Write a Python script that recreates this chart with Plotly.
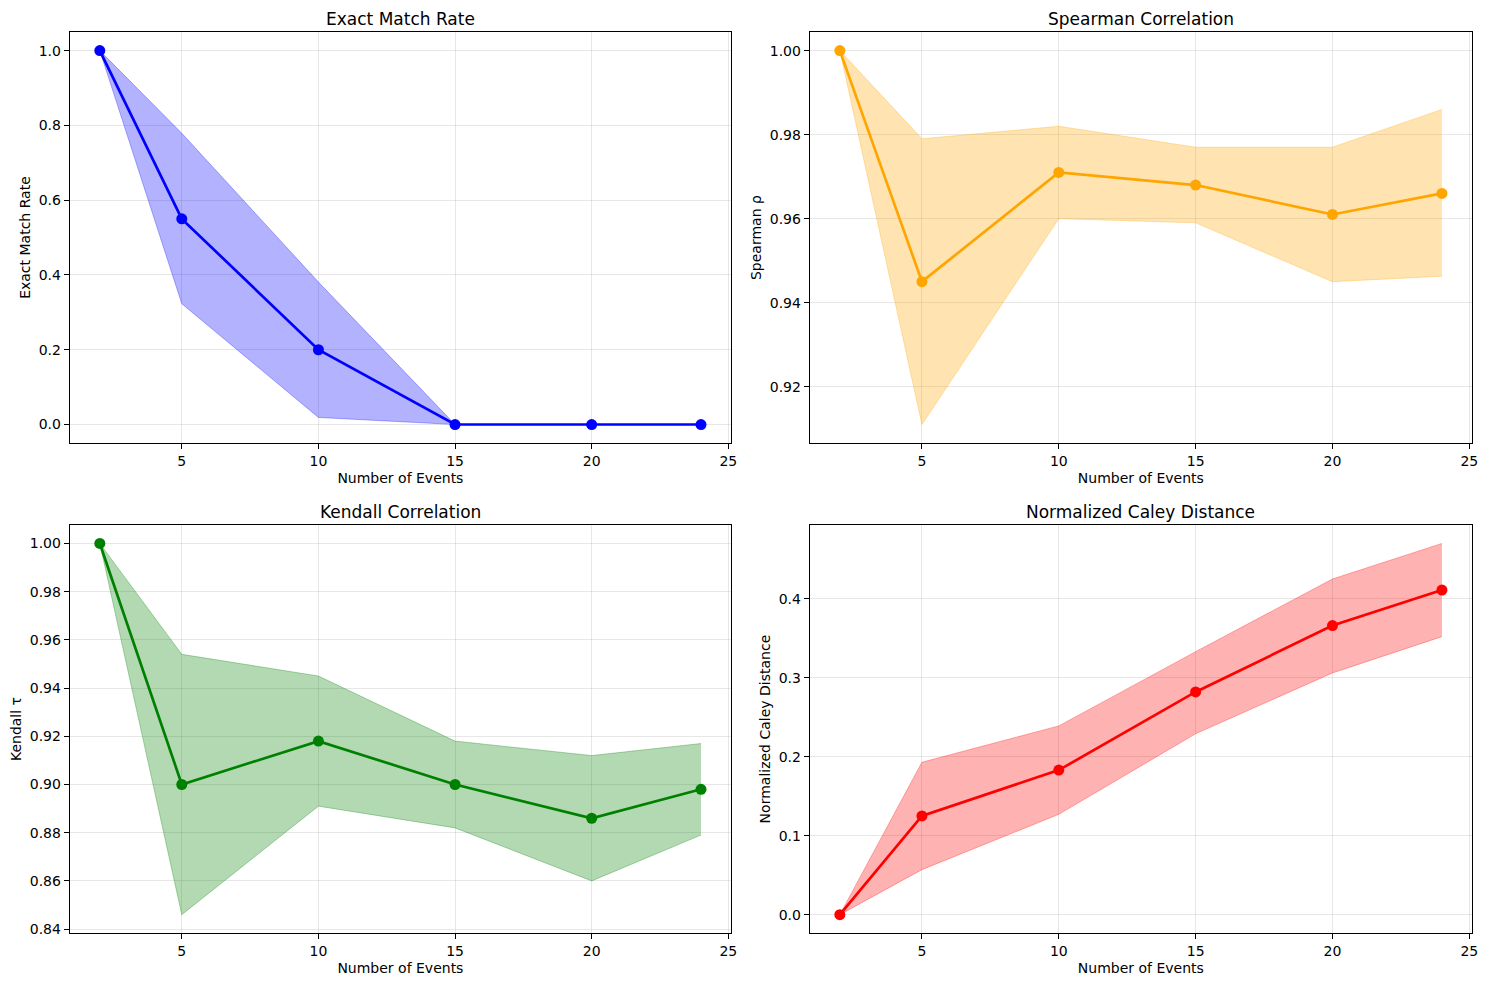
import plotly.graph_objects as go

events = [2, 5, 10, 15, 20, 24]

exact_mean = [1.0, 0.55, 0.20, 0.0, 0.0, 0.0]
exact_upper = [1.0, 0.779, 0.381, 0.0, 0.0, 0.0]
exact_lower = [1.0, 0.323, 0.019, 0.0, 0.0, 0.0]

spear_mean = [1.0, 0.945, 0.971, 0.968, 0.961, 0.966]
spear_upper = [1.0, 0.979, 0.982, 0.977, 0.977, 0.986]
spear_lower = [1.0, 0.911, 0.960, 0.959, 0.945, 0.9463]

kend_mean = [1.0, 0.900, 0.918, 0.900, 0.886, 0.898]
kend_upper = [1.0, 0.954, 0.945, 0.918, 0.912, 0.917]
kend_lower = [1.0, 0.846, 0.891, 0.882, 0.860, 0.879]

caley_mean = [0.0, 0.125, 0.183, 0.282, 0.366, 0.411]
caley_upper = [0.0, 0.193, 0.239, 0.333, 0.425, 0.470]
caley_lower = [0.0, 0.057, 0.127, 0.229, 0.306, 0.352]

panels = [
    ("Exact Match Rate", "Exact Match Rate", exact_mean, exact_lower, exact_upper,
     (0, 0, 255), [0.0, 0.2, 0.4, 0.6, 0.8, 1.0], "%.1f"),
    ("Spearman Correlation", "Spearman ρ", spear_mean, spear_lower, spear_upper,
     (255, 165, 0), [0.92, 0.94, 0.96, 0.98, 1.00], "%.2f"),
    ("Kendall Correlation", "Kendall τ", kend_mean, kend_lower, kend_upper,
     (0, 128, 0), [0.84, 0.86, 0.88, 0.90, 0.92, 0.94, 0.96, 0.98, 1.00], "%.2f"),
    ("Normalized Caley Distance", "Normalized Caley Distance", caley_mean, caley_lower, caley_upper,
     (255, 0, 0), [0.0, 0.1, 0.2, 0.3, 0.4], "%.1f"),
]

OFF = 8  # page body margin
W, H = 1489 - OFF, 990 - OFF


def px_x(v):
    return (v - OFF) / W


def px_y(v):
    return 1 - (v - OFF) / H


xdoms = [[px_x(70), px_x(734)], [px_x(813), px_x(1478)]]
ydoms = [[px_y(445), px_y(32)], [px_y(937), px_y(527)]]

fig = go.Figure()
font = "DejaVu Sans"
layout = dict(
    width=W, height=H, margin=dict(l=0, r=0, t=0, b=0),
    paper_bgcolor="white", plot_bgcolor="white", showlegend=False,
    font=dict(family=font, size=14, color="black"),
)
annotations = []
for i, (title, ylab, mean, lo, up, rgb, yt, fmt) in enumerate(panels):
    r, c = divmod(i, 2)
    n = i + 1
    xa = "x" if n == 1 else f"x{n}"
    ya = "y" if n == 1 else f"y{n}"
    col = f"rgb({rgb[0]},{rgb[1]},{rgb[2]})"
    fcol = f"rgba({rgb[0]},{rgb[1]},{rgb[2]},0.3)"
    fig.add_trace(go.Scatter(x=events, y=lo, mode="lines", line=dict(color=fcol, width=1),
                             xaxis=xa, yaxis=ya, hoverinfo="skip"))
    fig.add_trace(go.Scatter(x=events, y=up, mode="lines", line=dict(color=fcol, width=1),
                             fill="tonexty", fillcolor=fcol, xaxis=xa, yaxis=ya, hoverinfo="skip"))
    fig.add_trace(go.Scatter(x=events, y=mean, mode="lines+markers",
                             line=dict(color=col, width=2.7),
                             marker=dict(color=col, size=11), xaxis=xa, yaxis=ya))
    allv = lo + up + mean
    vmin, vmax = min(allv), max(allv)
    pad = (vmax - vmin) * 0.05
    axbase = dict(showline=True, linecolor="black", linewidth=1, mirror=True,
                  ticks="outside", ticklen=5, tickcolor="black",
                  showgrid=True, gridcolor="rgba(176,176,176,0.3)", gridwidth=1,
                  zeroline=False, tickfont=dict(family=font, size=14))
    layout["xaxis" if n == 1 else f"xaxis{n}"] = dict(
        axbase, domain=xdoms[c], anchor=ya, range=[0.9, 25.1],
        tickvals=[5, 10, 15, 20, 25],
        title=dict(text="Number of Events", font=dict(family=font, size=14), standoff=5))
    layout["yaxis" if n == 1 else f"yaxis{n}"] = dict(
        axbase, domain=ydoms[r], anchor=xa, range=[vmin - pad, vmax + pad],
        tickvals=yt, ticktext=[fmt % v for v in yt],
        title=dict(text=ylab, font=dict(family=font, size=14), standoff=4))
    annotations.append(dict(text=title, xref="paper", yref="paper",
                            x=(xdoms[c][0] + xdoms[c][1]) / 2, y=ydoms[r][1],
                            xanchor="center", yanchor="bottom", yshift=1, showarrow=False,
                            font=dict(family=font, size=17, color="black")))
layout["annotations"] = annotations
fig.update_layout(**layout)
fig.write_html("out.html")
